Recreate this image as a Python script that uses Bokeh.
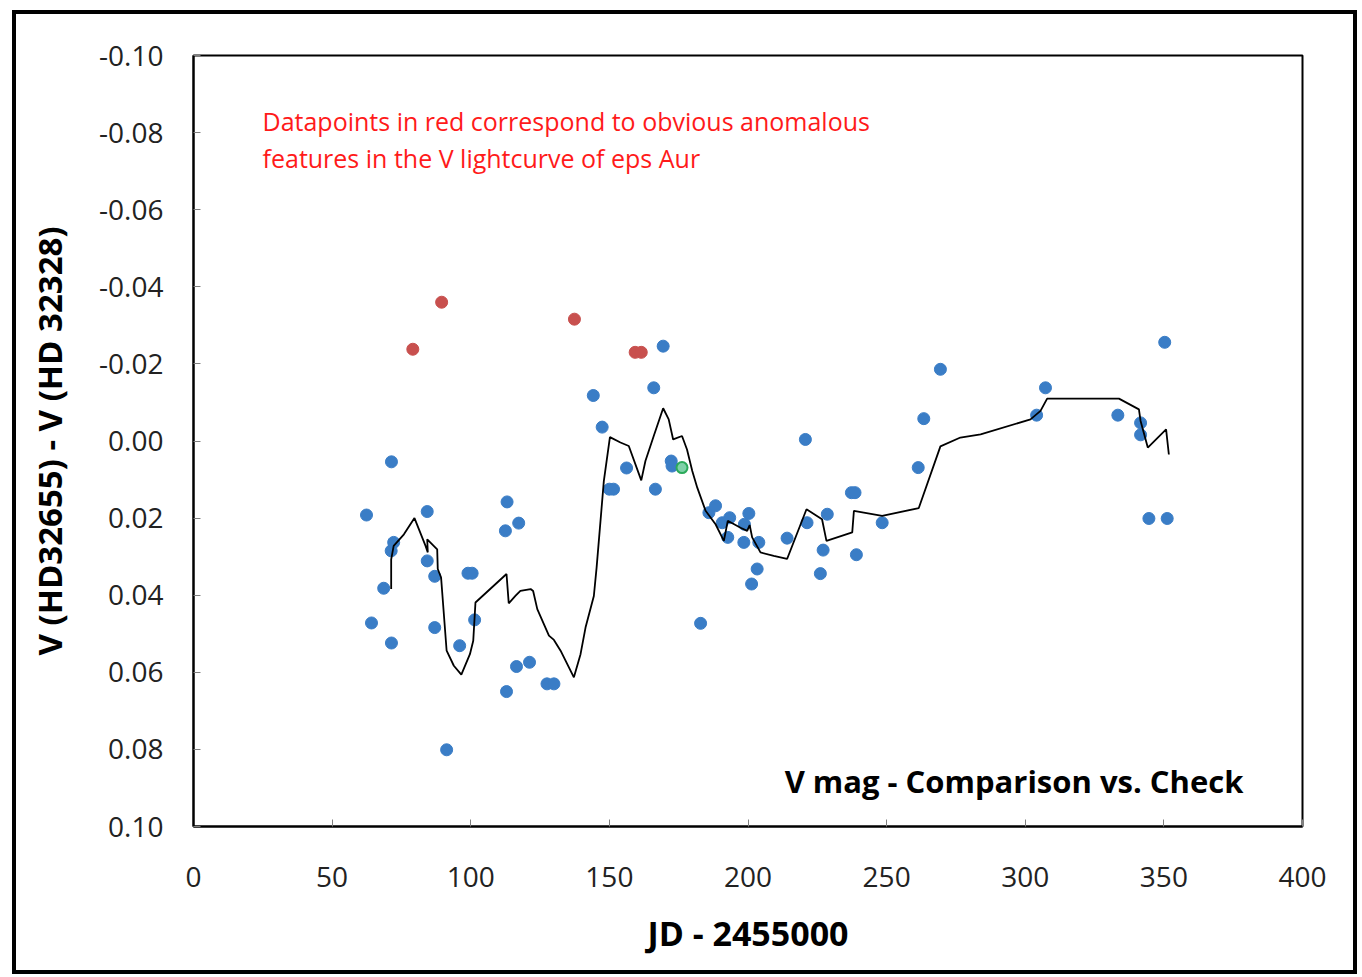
from bokeh.plotting import figure
from bokeh.models import Range1d, NumeralTickFormatter, Label, ColumnDataSource, InlineStyleSheet
from bokeh.embed import file_html
from bokeh.resources import INLINE

# ---- data ----
blue_jd = [62.4, 64.2, 68.6, 71.3, 72.2, 71.4, 71.4, 84.3, 84.3, 87.0, 87.0, 91.3, 96.0,
           99.0, 100.5, 101.4, 112.5, 113.1, 117.3, 112.9, 116.5, 121.2, 127.5, 130.0,
           144.2, 147.4, 150.0, 151.5, 156.2, 166.0, 166.6, 169.4, 172.3, 172.6, 182.9,
           185.9, 188.3, 190.7, 193.4, 192.7, 198.5, 198.7, 200.3, 201.3, 203.3, 203.9,
           214.1, 220.7, 221.3, 228.6, 227.1, 226.1, 237.3, 238.6, 239.1, 248.4, 261.4,
           263.4, 269.4, 304.1, 307.3, 333.4, 341.6, 341.6, 344.6, 350.3, 351.2]
blue_dv = [0.0192, 0.0472, 0.0382, 0.0285, 0.0263, 0.0054, 0.0524, 0.0183, 0.0311, 0.0351,
           0.0484, 0.0801, 0.0531, 0.0343, 0.0343, 0.0464, 0.0233, 0.0158, 0.0213, 0.0650,
           0.0585, 0.0574, 0.0630, 0.0630, -0.0118, -0.0036, 0.0125, 0.0125, 0.0070,
           -0.0138, 0.0125, -0.0246, 0.0052, 0.0065, 0.0473, 0.0186, 0.0168, 0.0212,
           0.0199, 0.0250, 0.0263, 0.0216, 0.0188, 0.0371, 0.0332, 0.0263, 0.0252,
           -0.0004, 0.0212, 0.0190, 0.0283, 0.0344, 0.0134, 0.0134, 0.0295, 0.0212,
           0.0069, -0.0058, -0.0186, -0.0067, -0.0138, -0.0067, -0.0047, -0.0016,
           0.0201, -0.0256, 0.0201]

red_jd = [79.1, 89.5, 137.4, 159.3, 161.5]
red_dv = [-0.0238, -0.0360, -0.0316, -0.0230, -0.0230]

green_jd = [176.2]
green_dv = [0.0069]

avg_jd = [71.3, 71.3, 72.2, 75.9, 79.7, 83.7, 84.5, 84.3, 87.9, 88.1, 89.3, 91.3, 93.9,
          96.6, 99.7, 100.9, 101.7, 112.9, 113.7, 116.1, 117.9, 121.6, 122.5, 124.0,
          128.2, 130.0, 132.4, 137.2, 139.6, 141.4, 144.4, 145.4, 148.0, 150.2, 154.0,
          157.0, 161.5, 163.0, 166.0, 169.4, 171.4, 173.0, 176.2, 178.0, 179.9, 181.7,
          184.7, 188.3, 191.3, 192.7, 197.3, 199.7, 200.6, 201.5, 204.5, 209.3, 214.1,
          221.1, 226.7, 228.3, 237.6, 238.2, 248.4, 261.6, 269.4, 276.6, 283.9, 301.9,
          305.5, 307.9, 333.8, 341.0, 341.6, 344.2, 350.8, 351.8]
avg_dv = [0.0384, 0.0307, 0.0272, 0.0242, 0.0200, 0.0272, 0.0289, 0.0255, 0.0281, 0.0332,
          0.0354, 0.0544, 0.0583, 0.0606, 0.0553, 0.0518, 0.0419, 0.0345, 0.0421, 0.0402,
          0.0389, 0.0384, 0.0389, 0.0436, 0.0505, 0.0516, 0.0544, 0.0613, 0.0553, 0.0484,
          0.0402, 0.0328, 0.0104, -0.0010, 0.0004, 0.0013, 0.0102, 0.0052, -0.0013,
          -0.0085, -0.0056, -0.0004, -0.0013, 0.0022, 0.0078, 0.0121, 0.0181, 0.0216,
          0.0259, 0.0207, 0.0225, 0.0233, 0.0218, 0.0250, 0.0289, 0.0298, 0.0306, 0.0177,
          0.0203, 0.0259, 0.0237, 0.0181, 0.0194, 0.0174, 0.0014, -0.0009, -0.0017,
          -0.0056, -0.0078, -0.0110, -0.0110, -0.0082, -0.0052, 0.0017, -0.0030, 0.0035]

x_ticks = [0, 50, 100, 150, 200, 250, 300, 350, 400]
y_ticks = [-0.10, -0.08, -0.06, -0.04, -0.02, 0.00, 0.02, 0.04, 0.06, 0.08, 0.10]

x_title = "JD - 2455000"
y_title = "V (HD32655) - V (HD 32328)"
note_1 = "Datapoints in red correspond to obvious anomalous"
note_2 = "features in the V lightcurve of eps Aur"
chart_label = "V mag  -  Comparison vs. Check"

FONT = "Open Sans"

p = figure(width=1362, height=977, output_backend="svg", toolbar_location=None,
           x_range=Range1d(0, 400), y_range=Range1d(0.10, -0.10),
           min_border_left=193, min_border_right=60, min_border_top=55, min_border_bottom=151,
           background_fill_color="white", border_fill_color="white")

p.grid.visible = False
p.outline_line_color = "black"
p.outline_line_width = 2

for ax in (p.xaxis[0], p.yaxis[0]):
    ax.axis_line_color = "black"
    ax.axis_line_width = 2
    ax.major_tick_in = 7
    ax.major_tick_out = 0
    ax.major_tick_line_color = "#808080"
    ax.minor_tick_line_color = None
    ax.major_label_text_font = FONT
    ax.major_label_text_font_size = "28px"
    ax.major_label_text_color = "#222222"
    ax.axis_label_text_font = FONT
    ax.axis_label_text_font_style = "bold"
    ax.axis_label_text_color = "black"

p.xaxis.ticker = x_ticks
p.yaxis.ticker = y_ticks
p.yaxis.formatter = NumeralTickFormatter(format="0.00")
p.xaxis.major_label_standoff = 40
p.yaxis.major_label_standoff = 30
p.xaxis.axis_label = x_title
p.yaxis.axis_label = y_title
p.xaxis.axis_label_text_font_size = "34px"
p.yaxis.axis_label_text_font_size = "33px"
p.xaxis.axis_label_standoff = 20
p.yaxis.axis_label_standoff = 24

src_avg = ColumnDataSource(dict(x=avg_jd, y=avg_dv))
src_blue = ColumnDataSource(dict(x=blue_jd, y=blue_dv))
src_red = ColumnDataSource(dict(x=red_jd, y=red_dv))
src_green = ColumnDataSource(dict(x=green_jd, y=green_dv))

p.scatter("x", "y", source=src_blue, size=12, fill_color="#3A7DC6", line_color="#3A7DC6")
p.scatter("x", "y", source=src_red, size=12, fill_color="#C8504E", line_color="#C8504E")
p.scatter("x", "y", source=src_green, size=11, fill_color="#7FD1A8", line_color="#2BAA5A", line_width=2)
p.line("x", "y", source=src_avg, line_color="black", line_width=1.8)

p.add_layout(Label(x=24.9, y=-0.0829, text=note_1, text_color="#FF1A1A", text_font=FONT,
                   text_font_size="25px", text_baseline="middle", text_align="left"))
p.add_layout(Label(x=24.9, y=-0.0735, text=note_2, text_color="#FF1A1A", text_font=FONT,
                   text_font_size="25px", text_baseline="middle", text_align="left"))
p.add_layout(Label(x=384.5, y=0.0883, text=chart_label, text_color="black", text_font=FONT,
                   text_font_style="bold", text_font_size="31px", text_baseline="middle",
                   text_align="right"))

# outer black frame around the whole chart image (drawn above the canvas)
p.stylesheets = [InlineStyleSheet(css="""
:host::after {
  content: "";
  position: absolute;
  left: 12px; top: 10px; right: 5px; bottom: 3px;
  border: 4px solid black;
  box-sizing: border-box;
  pointer-events: none;
  z-index: 1000;
}
""")]

open("out.html", "w").write(file_html(p, INLINE))
